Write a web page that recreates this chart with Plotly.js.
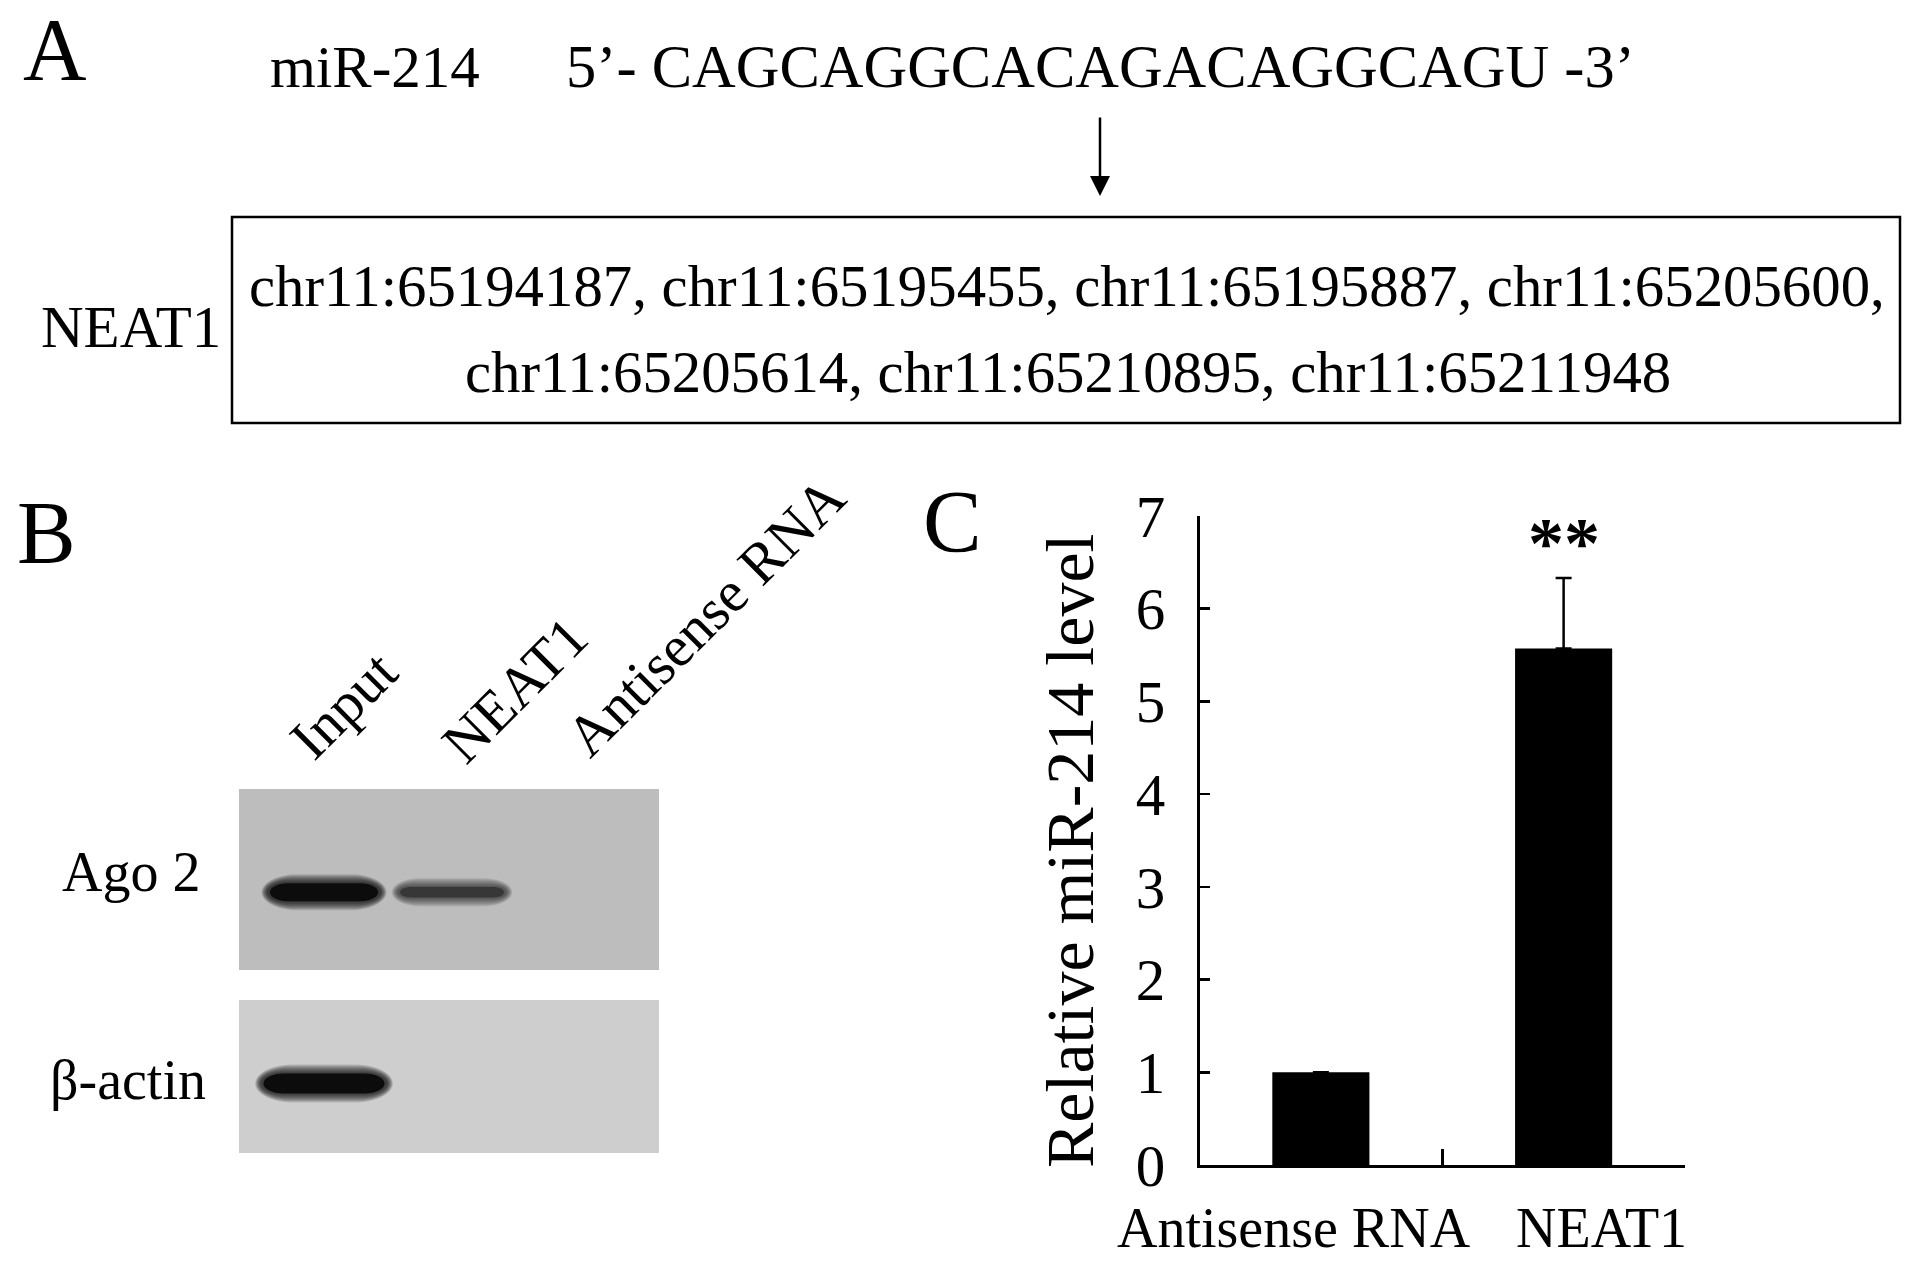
<!DOCTYPE html>
<html>
<head>
<meta charset="utf-8">
<script src="https://cdn.plot.ly/plotly-3.0.1.min.js"></script>
<style>
  html, body { margin: 0; padding: 0; background: #ffffff; }
  #chart { width: 1913px; height: 1263px; }
</style>
</head>
<body>
<div id="chart"></div>
<script>
// ---------------- DATA ----------------
// Panel A
const mirName = 'miR-214';
const mirSequence = 'CAGCAGGCACAGACAGGCAGU';
const targetName = 'NEAT1';
const neat1Sites = [
  'chr11:65194187', 'chr11:65195455', 'chr11:65195887', 'chr11:65205600',
  'chr11:65205614', 'chr11:65210895', 'chr11:65211948'
];
// Panel B (RIP western blot)
const blotLanes = ['Input', 'NEAT1', 'Antisense RNA'];
const blotRows = ['Ago 2', '\u03b2-actin'];
const ago2Intensity = [1.0, 0.55, 0.0];
const actinIntensity = [1.0, 0.0, 0.0];
// Panel C (bar chart)
const cCategories = ['Antisense RNA', 'NEAT1'];
const cValues = [1.0, 5.57];
const cErrors = [0.0, 0.76];
const cSignificance = ['', '**'];
const cYTicks = [0, 1, 2, 3, 4, 5, 6, 7];
const cYTitle = 'Relative miR-214 level';
const panelLetters = ['A', 'B', 'C'];

// ---------------- HELPERS ----------------
const W = 1913, H = 1263;
const FONT = 'Liberation Serif, Times New Roman, serif';
const px = v => v / W;
const py = v => 1 - v / H;

function txt(text, x, y, size, extra) {
  return Object.assign({
    text: text, xref: 'paper', yref: 'paper', x: px(x), y: py(y),
    xanchor: 'center', yanchor: 'middle', showarrow: false,
    font: { family: FONT, size: size, color: '#000000' }
  }, extra || {});
}

// Blot geometry (lane units on x2; fraction units on y3/y4)
const LANE_PX = 128;
const rowStyle = [
  { yref: 'y3', yc: 0.43, hpx: 181, halfW: 0.47, halfH: 12 },
  { yref: 'y4', yc: 0.455, hpx: 153, halfW: 0.52, halfH: 13 }
];

function capsule(xc, yc, hwPx, hhPx, hpx) {
  const hw = hwPx / LANE_PX, hh = hhPx / hpx;
  const e = Math.min(hw, (hhPx * 2.0) / LANE_PX);
  const k = 0.5523;
  const xl = xc - hw, xr = xc + hw, yt = yc + hh, yb = yc - hh;
  const f = n => n.toFixed(5);
  return 'M' + f(xl + e) + ',' + f(yt) +
    ' L' + f(xr - e) + ',' + f(yt) +
    ' C' + f(xr - e + k * e) + ',' + f(yt) + ' ' + f(xr) + ',' + f(yc + k * hh) + ' ' + f(xr) + ',' + f(yc) +
    ' C' + f(xr) + ',' + f(yc - k * hh) + ' ' + f(xr - e + k * e) + ',' + f(yb) + ' ' + f(xr - e) + ',' + f(yb) +
    ' L' + f(xl + e) + ',' + f(yb) +
    ' C' + f(xl + e - k * e) + ',' + f(yb) + ' ' + f(xl) + ',' + f(yc - k * hh) + ' ' + f(xl) + ',' + f(yc) +
    ' C' + f(xl) + ',' + f(yc + k * hh) + ' ' + f(xl + e - k * e) + ',' + f(yt) + ' ' + f(xl + e) + ',' + f(yt) + ' Z';
}

function bandShapes(intensities, style) {
  const out = [];
  intensities.forEach((v, lane) => {
    if (v <= 0) return;
    const hh = style.halfH * (0.3 + 0.7 * v);
    const hwPx = style.halfW * LANE_PX * (0.92 + 0.08 * v);
    const blur = [9, 8, 7, 6, 5, 4, 3, 2, 1];
    blur.forEach(b => {
      out.push({
        type: 'path', xref: 'x2', yref: style.yref, layer: 'above',
        path: capsule(lane, style.yc, hwPx + b * 0.7 - 4, hh + b - 3, style.hpx),
        fillcolor: 'rgba(0,0,0,' + (0.09 * v + 0.03).toFixed(3) + ')',
        line: { width: 0 }
      });
    });
    const g = Math.round(12 + (1 - v) * 95);
    out.push({
      type: 'path', xref: 'x2', yref: style.yref, layer: 'above',
      path: capsule(lane, style.yc, hwPx - 6, hh - 3, style.hpx),
      fillcolor: 'rgb(' + g + ',' + g + ',' + g + ')',
      line: { width: 0 }
    });
  });
  return out;
}

// ---------------- TRACES ----------------
const traces = [
  {
    type: 'bar', x: cCategories, y: cValues, xaxis: 'x', yaxis: 'y',
    width: 0.4,
    marker: { color: '#000000', line: { width: 0 } },
    error_y: {
      type: 'data', symmetric: false,
      array: cErrors.map(e => (e > 0 ? e : null)),
      arrayminus: cErrors.map(() => null),
      color: '#000000', thickness: 2.5, width: 8
    },
    hoverinfo: 'skip'
  },
  {
    type: 'scatter', mode: 'markers', x: [0, 1, 2], y: ago2Intensity,
    xaxis: 'x2', yaxis: 'y3', marker: { opacity: 0 }, hoverinfo: 'skip'
  },
  {
    type: 'scatter', mode: 'markers', x: [0, 1, 2], y: actinIntensity,
    xaxis: 'x2', yaxis: 'y4', marker: { opacity: 0 }, hoverinfo: 'skip'
  }
];

// ---------------- SHAPES ----------------
const shapes = [
  // Panel A box
  { type: 'rect', xref: 'paper', yref: 'paper', x0: px(232), x1: px(1900), y0: py(423), y1: py(217),
    line: { color: '#000000', width: 2.5 }, fillcolor: 'rgba(0,0,0,0)' },
  // Blot backgrounds
  { type: 'rect', xref: 'x2 domain', yref: 'y3 domain', x0: 0, x1: 1, y0: 0, y1: 1,
    line: { width: 0 }, fillcolor: '#bdbdbd', layer: 'below' },
  { type: 'rect', xref: 'x2 domain', yref: 'y4 domain', x0: 0, x1: 1, y0: 0, y1: 1,
    line: { width: 0 }, fillcolor: '#cecece', layer: 'below' }
].concat(bandShapes(ago2Intensity, rowStyle[0]))
 .concat(bandShapes(actinIntensity, rowStyle[1]));

// ---------------- ANNOTATIONS ----------------
const laneLabelPos = [[343, 705], [514, 690], [706, 617]];
const annotations = [
  txt(panelLetters[0], 55, 50, 88),
  txt(panelLetters[1], 46, 532, 88),
  txt(panelLetters[2], 952, 521, 88),
  txt(mirName, 375, 67, 59),
  txt('5\u2019- ' + mirSequence + ' -3\u2019', 1100, 67, 60.5),
  txt(targetName, 131, 327, 59),
  txt(neat1Sites.slice(0, 4).join(', ') + ',', 1067, 286, 58.8),
  txt(neat1Sites.slice(4).join(', '), 1068, 372, 58.8),
  // arrow
  { xref: 'paper', yref: 'paper', x: px(1100), y: py(196), ax: 0, ay: -80,
    text: '', showarrow: true, arrowhead: 2, arrowsize: 1.6, arrowwidth: 2.5, arrowcolor: '#000000' },
  // blot row labels
  txt(blotRows[0], 131, 872, 56),
  txt(blotRows[1], 128, 1080, 56),
  // C axis labels
  txt(cCategories[0], 1294, 1228, 56),
  txt(cCategories[1], 1601, 1228, 56),
  txt(cYTitle, 1070, 851, 68, { textangle: -90 })
];
blotLanes.forEach((lab, i) => {
  annotations.push(txt(lab, laneLabelPos[i][0], laneLabelPos[i][1], 58, { textangle: -45 }));
});
cCategories.forEach((c, i) => {
  if (!cSignificance[i]) return;
  annotations.push({
    text: '<b>' + cSignificance[i] + '</b>', xref: 'x', yref: 'y', x: c, y: cValues[i] + cErrors[i],
    xanchor: 'center', yanchor: 'bottom', yshift: -7, showarrow: false,
    font: { family: FONT, size: 72, color: '#000000' }
  });
});

// ---------------- LAYOUT ----------------
const axisFont = { family: FONT, size: 59, color: '#000000' };
const layout = {
  width: W, height: H,
  margin: { l: 0, r: 0, t: 0, b: 0, pad: 0 },
  paper_bgcolor: '#ffffff', plot_bgcolor: 'rgba(0,0,0,0)',
  showlegend: false,
  bargap: 0.6,
  xaxis: {
    domain: [px(1199.5), px(1685)], anchor: 'y', type: 'category',
    range: [-0.5, 1.5], tickson: 'boundaries', ticks: 'inside', ticklen: 16, tickwidth: 2.5,
    tickcolor: '#000000', showline: true, linewidth: 2.5, linecolor: '#000000',
    showticklabels: false, showgrid: false, zeroline: false, fixedrange: true
  },
  yaxis: {
    domain: [py(1165), py(516)], anchor: 'x', range: [0, 7],
    tickvals: cYTicks, ticktext: cYTicks.map(String),
    ticks: 'inside', ticklen: 10, tickwidth: 2.5, tickcolor: '#000000',
    ticklabelstandoff: 20,
    showline: true, linewidth: 2.5, linecolor: '#000000',
    tickfont: axisFont, showgrid: false, zeroline: false, fixedrange: true
  },
  xaxis2: {
    domain: [px(239), px(659)], anchor: 'y3',
    range: [(239 - 324) / LANE_PX, (659 - 324) / LANE_PX],
    visible: false, fixedrange: true
  },
  yaxis3: {
    domain: [py(970), py(789)], anchor: 'x2', range: [0, 1],
    visible: false, fixedrange: true
  },
  yaxis4: {
    domain: [py(1153), py(1000)], anchor: 'x2', range: [0, 1],
    visible: false, fixedrange: true
  },
  shapes: shapes,
  annotations: annotations
};

Plotly.newPlot('chart', traces, layout, { staticPlot: true, displayModeBar: false });
</script>
</body>
</html>
